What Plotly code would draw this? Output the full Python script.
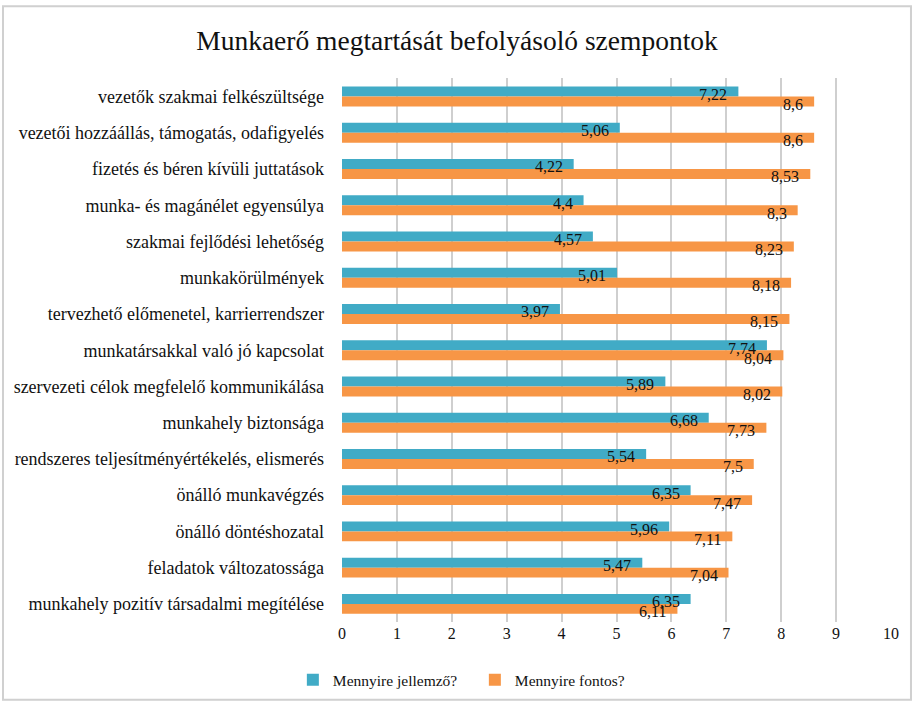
import plotly.graph_objects as go

categories = [
    "vezetők szakmai felkészültsége",
    "vezetői hozzáállás, támogatás, odafigyelés",
    "fizetés és béren kívüli juttatások",
    "munka- és magánélet egyensúlya",
    "szakmai fejlődési lehetőség",
    "munkakörülmények",
    "tervezhető előmenetel, karrierrendszer",
    "munkatársakkal való jó kapcsolat",
    "szervezeti célok megfelelő kommunikálása",
    "munkahely biztonsága",
    "rendszeres teljesítményértékelés, elismerés",
    "önálló munkavégzés",
    "önálló döntéshozatal",
    "feladatok változatossága",
    "munkahely pozitív társadalmi megítélése",
]
jellemzo = [7.22, 5.06, 4.22, 4.4, 4.57, 5.01, 3.97, 7.74, 5.89, 6.68, 5.54, 6.35, 5.96, 5.47, 6.35]
fontos = [8.6, 8.6, 8.53, 8.3, 8.23, 8.18, 8.15, 8.04, 8.02, 7.73, 7.5, 7.47, 7.11, 7.04, 6.11]
series_names = ["Mennyire jellemző?", "Mennyire fontos?"]
x_ticks = list(range(0, 11))

BLUE = "#41abc6"
ORANGE = "#f79646"
FONT = "Liberation Serif, Times New Roman, serif"


def fmt(v):
    return ("%g" % v).replace(".", ",")


fig = go.Figure()
fig.add_trace(go.Bar(y=categories, x=jellemzo, orientation="h", name=series_names[0],
                     marker=dict(color=BLUE, line=dict(width=0))))
fig.add_trace(go.Bar(y=categories, x=fontos, orientation="h", name=series_names[1],
                     marker=dict(color=ORANGE, line=dict(width=0))))

annotations = []
for c, v in zip(categories, jellemzo):
    annotations.append(dict(x=v, y=c, xref="x", yref="y", text=fmt(v), showarrow=False,
                            xanchor="right", yanchor="middle", xshift=-9, yshift=2,
                            font=dict(family=FONT, size=16, color="#111111")))
for c, v in zip(categories, fontos):
    annotations.append(dict(x=v, y=c, xref="x", yref="y", text=fmt(v), showarrow=False,
                            xanchor="right", yanchor="middle", xshift=-9, yshift=-8,
                            font=dict(family=FONT, size=16, color="#111111")))

fig.update_layout(
    width=914, height=704,
    margin=dict(l=342, r=23, t=78, b=82, autoexpand=False),
    paper_bgcolor="white", plot_bgcolor="white",
    barmode="group", bargap=0.45, bargroupgap=0,
    font=dict(family=FONT, color="#111111"),
    title=dict(text="Munkaerő megtartását befolyásoló szempontok", x=0.5, xanchor="center",
               y=0.943, yanchor="middle", font=dict(family=FONT, size=27.5, color="#111111")),
    xaxis=dict(range=[0, 10], tickvals=x_ticks, showgrid=True, gridcolor="#cfcfcf", gridwidth=1.5,
               zeroline=False, showline=False, tickfont=dict(family=FONT, size=16, color="#111111"),
               ticks="", fixedrange=True, automargin=False),
    yaxis=dict(autorange="reversed", showgrid=False, showline=False, ticks="", automargin=False,
               tickfont=dict(family=FONT, size=18, color="#111111"), ticklabelstandoff=17),
    legend=dict(orientation="h", x=0.242, xanchor="center", y=-0.107, yanchor="middle",
                font=dict(family=FONT, size=15.5, color="#111111"), itemwidth=30,
                entrywidthmode="pixels", entrywidth=137),
    annotations=annotations,
    showlegend=True,
)
fig.add_shape(type="rect", xref="paper", yref="paper", x0=-0.6175, x1=1.0364, y0=-0.143, y1=1.132,
              line=dict(color="#d0d0d0", width=2), fillcolor="rgba(0,0,0,0)", layer="below")

fig.write_html("out.html", config={"displayModeBar": False},
               post_script="document.body.style.margin='0';")
